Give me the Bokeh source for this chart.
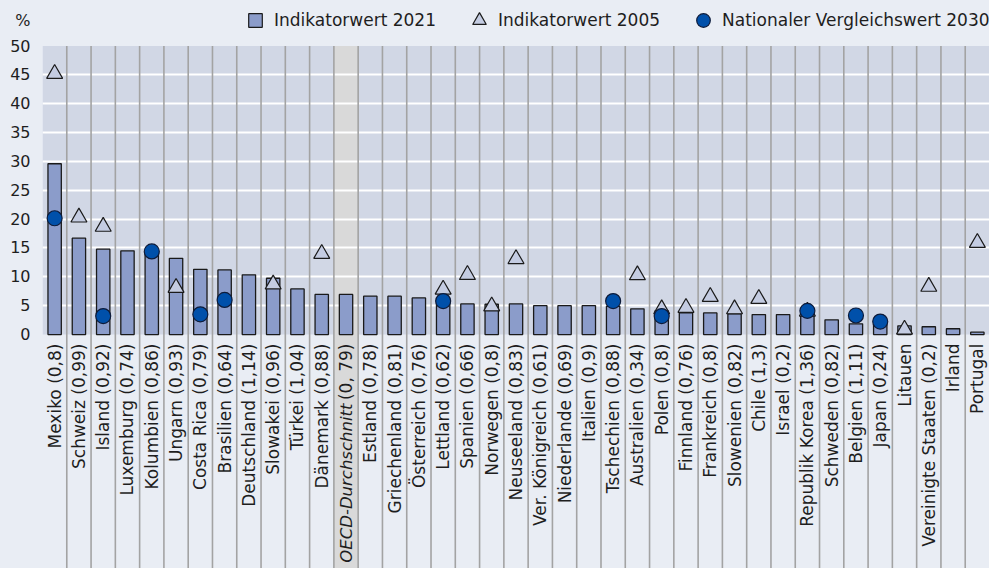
import math
from bokeh.plotting import figure
from bokeh.models import Range1d, FixedTicker, Legend, LegendItem
from bokeh.core.properties import value
from bokeh.embed import file_html
from bokeh.resources import INLINE

# ---------------- data ----------------
countries = ["Mexiko", "Schweiz", "Island", "Luxemburg", "Kolumbien", "Ungarn", "Costa Rica",
             "Brasilien", "Deutschland", "Slowakei", "Türkei", "Dänemark", "OECD-Durchschnitt",
             "Estland", "Griechenland", "Österreich", "Lettland", "Spanien", "Norwegen",
             "Neuseeland", "Ver. Königreich", "Niederlande", "Italien", "Tschechien",
             "Australien", "Polen", "Finnland", "Frankreich", "Slowenien", "Chile", "Israel",
             "Republik Korea", "Schweden", "Belgien", "Japan", "Litauen", "Vereinigte Staaten",
             "Irland", "Portugal"]
coefficients = ["0,8", "0,99", "0,92", "0,74", "0,86", "0,93", "0,79", "0,64", "1,14", "0,96",
                "1,04", "0,88", "0, 79", "0,78", "0,81", "0,76", "0,62", "0,66", "0,8", "0,83",
                "0,61", "0,69", "0,9", "0,88", "0,34", "0,8", "0,76", "0,8", "0,82", "1,3",
                "0,2", "1,36", "0,82", "1,11", "0,24", None, "0,2", None, None]
indikator_2021 = [29.6, 16.7, 14.8, 14.5, 14.2, 13.2, 11.3, 11.2, 10.35, 9.75, 7.9, 6.95, 6.95,
                  6.65, 6.65, 6.35, 5.9, 5.3, 5.25, 5.3, 5.0, 5.0, 5.0, 4.9, 4.45, 4.1, 3.75,
                  3.75, 3.6, 3.45, 3.45, 3.4, 2.55, 1.85, 1.7, 1.5, 1.35, 1.0, 0.4]
indikator_2005 = [45.2, 20.3, 18.7, None, None, 8.1, None, None, None, 8.7, None, 14.0, None,
                  None, None, None, 7.8, 10.35, 4.9, 13.1, None, None, None, None, 10.3, 4.4,
                  4.65, 6.55, 4.4, 6.2, None, 4.0, None, None, None, 0.87, 8.3, None, 15.9]
vergleich_2030 = [20.15, None, 3.2, None, 14.4, None, 3.5, 6.0, None, None, None, None, None,
                  None, None, None, 5.8, None, None, None, None, None, None, 5.8, None, 3.2,
                  None, None, None, None, None, 4.1, None, 3.3, 2.25, None, None, None, None]
average_name = "OECD-Durchschnitt"
y_ticks = [0, 5, 10, 15, 20, 25, 30, 35, 40, 45, 50]
unit_label = "%"
legend_labels = ["Indikatorwert 2021", "Indikatorwert 2005", "Nationaler Vergleichswert 2030"]

# ---------------- style ----------------
OUTER = "#e9edf4"
PLOT_BG = "#d1d7e5"
AVG_BG = "#d9d9d9"
SEP = "#a3a3a3"
BAR = "#8b9cca"
TRI = "#c4cce2"
CIRC = "#0050aa"
EDGE = "#1a1a1a"
TXT = "#1e1e1e"
FONT = "DejaVu Sans"

n = len(countries)
idx = list(range(n))
y_min, y_max = -40.55, 57.89

p = figure(width=989, height=568, x_range=Range1d(-0.5, n - 0.5), y_range=Range1d(y_min, y_max),
           output_backend="svg", toolbar_location=None, x_axis_location=None,
           min_border_left=42, min_border_right=0, min_border_top=0, min_border_bottom=0,
           background_fill_color=OUTER, border_fill_color=OUTER, outline_line_color=None)

# backgrounds
p.quad(left=[-0.5], right=[n - 0.5], bottom=[y_ticks[0]], top=[y_ticks[-1]],
       fill_color=PLOT_BG, line_color=None, level="image")
avg_i = countries.index(average_name)
p.quad(left=[avg_i - 0.5], right=[avg_i + 0.5], bottom=[y_min], top=[y_ticks[-1]],
       fill_color=AVG_BG, line_color=None, level="image")

# grid
p.xgrid.visible = False
p.ygrid.ticker = FixedTicker(ticks=y_ticks[1:-1])
p.ygrid.grid_line_color = "white"
p.ygrid.grid_line_width = 2.2

# y axis
pct_pos = 54.42
p.yaxis.ticker = FixedTicker(ticks=y_ticks + [pct_pos])
p.yaxis.major_label_overrides = {pct_pos: unit_label}
p.yaxis.axis_line_color = None
p.yaxis.major_tick_line_color = None
p.yaxis.minor_tick_line_color = None
p.yaxis.major_tick_out = 0
p.yaxis.major_tick_in = 0
p.yaxis.major_label_standoff = 12
p.yaxis.major_label_text_font = FONT
p.yaxis.major_label_text_font_size = "16px"
p.yaxis.major_label_text_color = TXT

# separators
seps = [i + 0.5 for i in idx[:-1]]
p.segment(x0=seps, y0=[y_min] * len(seps), x1=seps, y1=[y_ticks[-1]] * len(seps),
          line_color=SEP, line_width=1.6)

# bars
bars = p.vbar(x=idx, top=indikator_2021, bottom=0, width=0.55, fill_color=BAR,
              line_color=EDGE, line_width=1.3)

# triangles
tx = [i for i in idx if indikator_2005[i] is not None]
ty = [indikator_2005[i] for i in tx]
tris = p.scatter(x=tx, y=ty, marker="triangle", size=16, fill_color=TRI,
                 line_color=EDGE, line_width=1.2)

# circles
cx = [i for i in idx if vergleich_2030[i] is not None]
cy = [vergleich_2030[i] for i in cx]
circs = p.scatter(x=cx, y=cy, marker="circle", size=15, fill_color=CIRC,
                  line_color="#0d1b3a", line_width=1.2)

# category labels
labels = []
for c, k in zip(countries, coefficients):
    if c == average_name:
        labels.append("(" + k + ")")
    elif k is None:
        labels.append(c)
    else:
        labels.append(c + " (" + k + ")")
p.text(x=idx, y=[0] * n, text=labels, angle=math.pi / 2, text_align="right",
       text_baseline="middle", y_offset=9, text_font=value(FONT), text_font_size="17px",
       text_color=TXT)
p.text(x=[avg_i], y=[0], text=[average_name], angle=math.pi / 2, text_align="right",
       text_baseline="middle", y_offset=69, text_font=value(FONT), text_font_size="16.5px",
       text_font_style="italic", text_color=TXT)

# legend (square proxy for the bar icon, placed outside the visible range)
sq = p.scatter(x=[-100], y=[-100], marker="square", fill_color=BAR, line_color=EDGE,
               line_width=1.2)
legend = Legend(items=[LegendItem(label=legend_labels[0], renderers=[sq]),
                       LegendItem(label=legend_labels[1], renderers=[tris]),
                       LegendItem(label=legend_labels[2], renderers=[circs])],
                orientation="horizontal", location=(196, 531), glyph_width=34, glyph_height=34,
                label_standoff=2, spacing=26, padding=0, margin=0,
                background_fill_alpha=0, border_line_color=None,
                label_text_font=FONT, label_text_font_size="17px", label_text_color=TXT)
p.add_layout(legend)

html = file_html(p, INLINE)
html = html.replace("</head>", "<style>body{background-color:" + OUTER + ";}</style></head>", 1)
open("out.html", "w").write(html)
